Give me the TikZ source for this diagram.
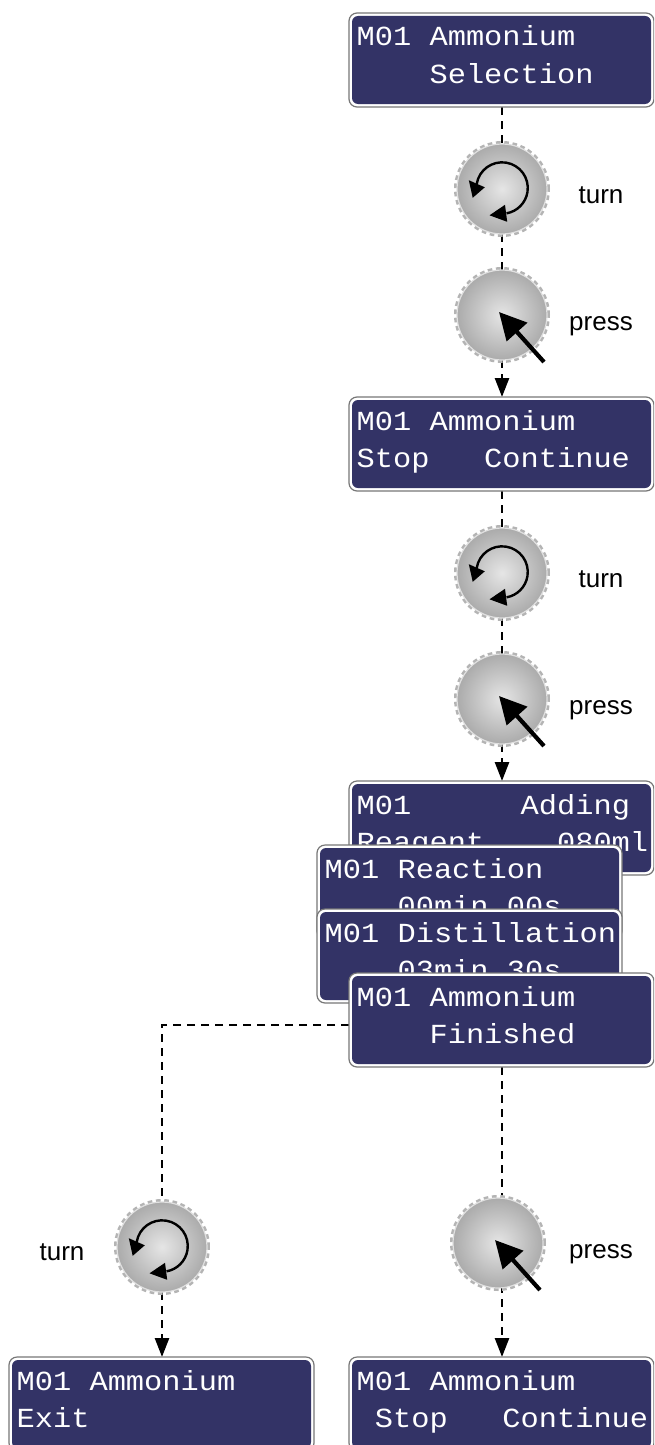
\documentclass[tikz,border=0pt]{standalone}
\usepackage{fontspec}
\setmainfont{Liberation Sans}
\setmonofont[FakeStretch=1.1]{Liberation Mono}
\usetikzlibrary{arrows.meta,backgrounds}
\definecolor{lcdblue}{HTML}{333366}
\definecolor{rimgray}{HTML}{777777}
\definecolor{teethgray}{HTML}{B4B4B4}
\tikzset{
  lcdouter/.style={draw=rimgray,line width=1.2pt,fill=white,rounded corners=8pt,minimum width=305pt,minimum height=94pt,inner sep=0pt,outer sep=0pt},
  lcdinner/.style={fill=lcdblue,rounded corners=6pt,minimum width=299pt,minimum height=88pt,inner sep=0pt,outer sep=0pt},
  lcdtext/.style={text=white,anchor=base west,inner sep=0pt,font=\fontsize{27.6}{31}\selectfont\ttfamily},
  knob/.style={circle,minimum size=90pt,inner sep=0pt,outer sep=0pt,draw=black!12,line width=1.2pt,inner color=black!10,outer color=black!33,
    preaction={draw=teethgray,line width=6pt,dash pattern=on 4.5pt off 3.5pt}},
  flow/.style={draw=black,line width=2.6pt,dash pattern=on 8pt off 6pt},
  flowend/.style={flow,-{Stealth[length=19pt,width=14pt,inset=0pt]}},
  hint/.style={font=\fontsize{26}{28}\selectfont,inner sep=0pt,text=black},
  knobarrow/.style={line width=4.2pt,draw=black,-{Stealth[length=27pt,width=27pt,inset=0pt]}},
  turnarc/.style={line width=2.4pt,draw=black},
  turnhead/.style={fill=black}
}
% name, left, top, line 1, line 2
\newcommand{\lcdbox}[5]{%
  \node[lcdouter,anchor=north west] (#1) at (#2,#3) {};
  \node[lcdinner] (#1i) at (#1.center) {};
  \node[lcdtext] (#1a) at (#2+7.5,#3+33) {#4};
  \node[lcdtext] (#1b) at (#2+7.5,#3+70.5) {#5};
}
\newcommand{\turnknob}[3]{%
  \node[knob] (#1) at (#2,#3) {};
  \draw[turnarc] (#2-25.3,#3-5) arc[start angle=171,end angle=-80,radius=25.7pt];
  \fill[turnhead] (#2-29.3,#3+8.8) -- (#2-33.2,#3-8.8) -- (#2-17.2,#3-1.7) -- cycle;
  \fill[turnhead] (#2-12.5,#3+26.3) -- (#2+3,#3+15.8) -- (#2+5.2,#3+32.8) -- cycle;
}
\newcommand{\pressknob}[3]{%
  \node[knob] (#1) at (#2,#3) {};
  \coordinate (#1t) at (#2+42,#3+47);
  \coordinate (#1h) at (#2-3,#3-3);
  \draw[knobarrow] (#1t) -- (#1h);
}
\begin{document}
\begin{tikzpicture}[x=1pt,y=-1pt]
\useasboundingbox (0,0) rectangle (654,1445);
\clip (0,0) rectangle (654,1445);
\lcdbox{ba}{349}{13}{M01 Ammonium}{~~~~Selection}
\lcdbox{bb}{349}{397}{M01 Ammonium}{Stop~~~Continue}
\lcdbox{bc}{349}{781}{M01~~~~~~Adding}{Reagent~~~~080ml}
\lcdbox{bd}{317}{845}{M01 Reaction}{~~~~00min 00s}
\lcdbox{be}{317}{909}{M01 Distillation}{~~~~03min 30s}
\lcdbox{bf}{349}{973}{M01 Ammonium}{~~~~Finished}
\lcdbox{bg}{9}{1357}{M01 Ammonium}{Exit}
\lcdbox{bh}{349}{1357}{M01 Ammonium}{~Stop~~~Continue}
\turnknob{ka}{502}{189}
\pressknob{kb}{502}{315}
\turnknob{kc}{502}{573}
\pressknob{kd}{502}{699}
\turnknob{ke}{162}{1247}
\pressknob{kf}{498}{1243}
\node[hint] (la) at (601,195) {turn};
\node[hint] (lb) at (601,326) {press};
\node[hint] (lc) at (601,579) {turn};
\node[hint] (ld) at (601,710) {press};
\node[hint] (le) at (62,1252) {turn};
\node[hint] (lf) at (601,1254) {press};
\coordinate (fw) at ([yshift=-5pt]bf.west);
\begin{scope}[on background layer]
\draw[flow] (ba.south -| ka) -- (ka);
\draw[flow] (ka) -- (kb);
\draw[flowend] (kb) -- (bb.north -| kb);
\draw[flow] (bb.south -| ka) -- (kc);
\draw[flow] (kc) -- (kd);
\draw[flowend] (kd) -- (bc.north -| kd);
\draw[flow] (fw) -| (ke);
\draw[flowend] (ke) -- (ke |- bg.north);
\draw[flow] (bf.south -| ka) -- (ka |- kf);
\draw[flowend] (ka |- kf) -- (ka |- bh.north);
\end{scope}
\end{tikzpicture}
\end{document}
